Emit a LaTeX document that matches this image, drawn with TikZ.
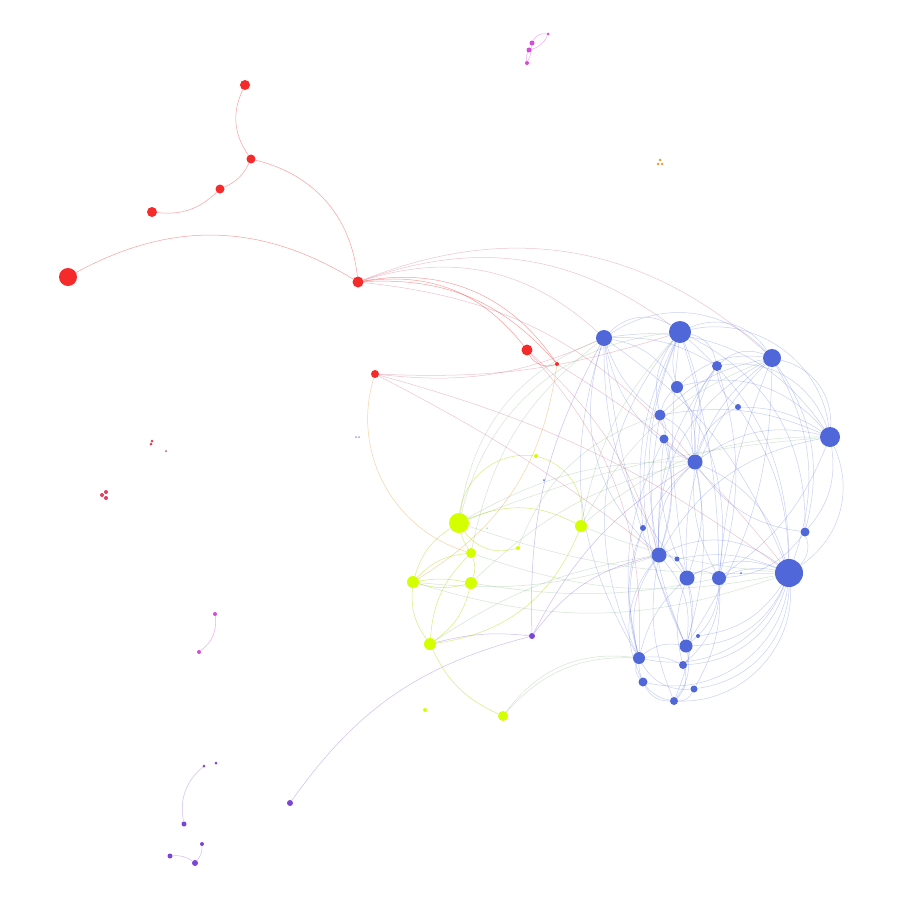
\documentclass[tikz,border=0pt]{standalone}
\usetikzlibrary{calc}
\definecolor{cRed}{HTML}{F52A2A}
\definecolor{cBlue}{HTML}{4F67D9}
\definecolor{cYel}{HTML}{D4FF00}
\definecolor{cPur}{HTML}{7B45D6}
\definecolor{cMag}{HTML}{D84AD8}
\definecolor{cPink}{HTML}{E0405A}
\definecolor{cOra}{HTML}{E8A040}
\pgfdeclarelayer{bgl}
\pgfdeclarelayer{edgelayer}
\pgfsetlayers{bgl,edgelayer,main}
\tikzset{
  nd/.style={circle,inner sep=0pt,draw=none},
  nr/.style={nd,fill=cRed},
  nb/.style={nd,fill=cBlue},
  ny/.style={nd,fill=cYel},
  np/.style={nd,fill=cPur},
  nm/.style={nd,fill=cMag},
  nk/.style={nd,fill=cPink},
  no/.style={nd,fill=cOra},
  bd/.style={bend left=#1},
  eb/.style={draw=cBlue,opacity=.3,line width=.5pt},
  er/.style={draw=cRed,opacity=.45,line width=.5pt},
  ep/.style={draw=black!35!magenta!55!cRed,opacity=.3,line width=.5pt},
  ey/.style={draw=cYel!85!black,opacity=.5,line width=.5pt},
  eg/.style={draw=green!40!black!60,opacity=.28,line width=.5pt},
  eo/.style={draw=cOra,opacity=.45,line width=.5pt},
  ev/.style={draw=cPur,opacity=.35,line width=.5pt},
  em/.style={draw=cMag,opacity=.45,line width=.5pt},
}
\begin{document}
\begin{tikzpicture}[x=1pt,y=1pt]
\begin{pgfonlayer}{bgl}
\fill[white] (0,0) rectangle (900,-900);
\end{pgfonlayer}
\useasboundingbox (0,0) rectangle (900,-900);
% ---------- red cluster nodes ----------
\node[nr,minimum size=10pt] (R1) at (245,-85) {};
\node[nr,minimum size=9pt] (R2) at (251,-159) {};
\node[nr,minimum size=9pt] (R3) at (220,-189) {};
\node[nr,minimum size=10pt] (R4) at (152,-212) {};
\node[nr,minimum size=18pt] (R5) at (68,-277) {};
\node[nr,minimum size=11pt] (R6) at (358,-282) {};
\node[nr,minimum size=11pt] (R7) at (527,-350) {};
\node[nr,minimum size=4pt] (R8) at (557,-364) {};
\node[nr,minimum size=8pt] (R9) at (375,-374) {};
% ---------- blue cluster nodes ----------
\node[nb,minimum size=16pt] (B1) at (604,-338) {};
\node[nb,minimum size=22pt] (B2) at (680,-332) {};
\node[nb,minimum size=10pt] (B3) at (717,-366) {};
\node[nb,minimum size=18pt] (B4) at (772,-358) {};
\node[nb,minimum size=12pt] (B5) at (677,-387) {};
\node[nb,minimum size=6pt] (B6) at (738,-407) {};
\node[nb,minimum size=11pt] (B7) at (660,-415) {};
\node[nb,minimum size=9pt] (B8) at (664,-439) {};
\node[nb,minimum size=15pt] (B9) at (695,-462) {};
\node[nb,minimum size=20pt] (B10) at (830,-437) {};
\node[nb,minimum size=6pt] (B11) at (643,-528) {};
\node[nb,minimum size=9pt] (B12) at (805,-532) {};
\node[nb,minimum size=15pt] (B13) at (659,-555) {};
\node[nb,minimum size=5pt] (B14) at (677,-559) {};
\node[nb,minimum size=15pt] (B15) at (687,-578) {};
\node[nb,minimum size=14pt] (B16) at (719,-578) {};
\node[nb,minimum size=28pt] (B17) at (789,-573) {};
\node[nb,minimum size=2pt] (B18) at (741,-573) {};
\node[nb,minimum size=4pt] (B19) at (698,-636) {};
\node[nb,minimum size=13pt] (B20) at (686,-646) {};
\node[nb,minimum size=12pt] (B21) at (639,-658) {};
\node[nb,minimum size=8pt] (B22) at (683,-665) {};
\node[nb,minimum size=9pt] (B23) at (643,-682) {};
\node[nb,minimum size=7pt] (B24) at (694,-689) {};
\node[nb,minimum size=8pt] (B25) at (674,-701) {};
\node[nb,minimum size=2pt] (B26) at (544,-480) {};
% ---------- yellow cluster nodes ----------
\node[ny,minimum size=20pt] (Y1) at (459,-523) {};
\node[ny,minimum size=12pt] (Y2) at (581,-526) {};
\node[ny,minimum size=10pt] (Y3) at (471,-553) {};
\node[ny,minimum size=12pt] (Y4) at (413,-582) {};
\node[ny,minimum size=12pt] (Y5) at (471,-583) {};
\node[ny,minimum size=12pt] (Y6) at (430,-644) {};
\node[ny,minimum size=10pt] (Y7) at (503,-716) {};
\node[ny,minimum size=4pt] (Y8) at (536,-456) {};
\node[ny,minimum size=4pt] (Y9) at (518,-548) {};
\node[ny,minimum size=4pt] (Y10) at (425,-710) {};
\node[nd,fill=green!60!black,opacity=.5,minimum size=1.5pt] (Y11) at (487,-528) {};
% ---------- purple ----------
\node[np,minimum size=6pt] (P1) at (532,-636) {};
\node[np,minimum size=6pt] (P2) at (290,-803) {};
\node[np,minimum size=3pt] (P3) at (216,-763) {};
\node[np,minimum size=3pt] (P4) at (204,-766) {};
\node[np,minimum size=5pt] (P5) at (184,-824) {};
\node[np,minimum size=4pt] (P6) at (202,-844) {};
\node[np,minimum size=5pt] (P7) at (170,-856) {};
\node[np,minimum size=6pt] (P8) at (195,-863) {};
% ---------- magenta / small ----------
\node[nm,minimum size=3pt] (M1) at (548,-34) {};
\node[nm,minimum size=5pt] (M2) at (532,-43) {};
\node[nm,minimum size=5pt] (M3) at (529,-50) {};
\node[nm,minimum size=4pt] (M4) at (527,-63) {};
\node[nm,minimum size=4pt] (M5) at (215,-614) {};
\node[nm,minimum size=4pt] (M6) at (199,-652) {};
\node[nk,minimum size=3pt] (K1) at (152,-441) {};
\node[nk,minimum size=3pt] (K2) at (151,-444) {};
\node[nk,minimum size=2pt] (K3) at (166,-451) {};
\node[nk,minimum size=4pt] (K4) at (102,-495) {};
\node[nk,minimum size=4pt] (K5) at (106,-492) {};
\node[nk,minimum size=4pt] (K6) at (106,-498) {};
\node[no,minimum size=3pt] (O1) at (660,-160) {};
\node[no,minimum size=3pt] (O2) at (658,-164) {};
\node[no,minimum size=3pt] (O3) at (662,-164) {};
\node[nb,opacity=.6,minimum size=2pt] (T1) at (356,-437) {};
\node[nb,opacity=.6,minimum size=2pt] (T2) at (359,-437) {};

\begin{pgfonlayer}{edgelayer}
% ---------- red edges ----------
\draw[er] (R1) to[bd=-30] (R2);
\draw[er] (R3) to[bd=-20] (R2);
\draw[er] (R4) to[bd=-25] (R3);
\draw[er] (R2) to[bd=35] (R6);
\draw[er] (R5) to[bd=30] (R6);
\draw[er] (R6) to[bd=30] (R7);
\draw[er] (R6) to[bd=33] (R8);
\draw[er] (R6) to[bd=26] (R8);
\draw[er] (R7) to[bd=-40] (R8);
% ---------- red-blue edges ----------
\draw[ep] (R6) to[bd=30] (B1);
\draw[ep] (R6) to[bd=32] (B4);
\draw[ep] (R6) to[bd=28] (B2);
\draw[ep] (R6) to[bd=22] (B9);
\draw[ep] (R9) to[bd=-15] (B1);
\draw[ep] (R9) to[bd=-10] (B2);
\draw[ep] (R9) to[bd=10] (B17);
\draw[ep] (R9) to[bd=5] (B13);
\draw[ep] (R7) to[bd=22] (B21);
\draw[ep] (R7) to[bd=15] (B13);
\draw[ep] (R8) to[bd=10] (B17);
% ---------- orange ----------
\draw[eo] (R9) to[bd=-45] (Y3);
\draw[eo] (R8) to[bd=25] (Y4);
% ---------- yellow edges ----------
\draw[ey] (Y1) to[bd=45] (Y8);
\draw[ey] (Y8) to[bd=40] (Y2);
\draw[ey] (Y1) to[bd=25] (Y2);
\draw[ey] (Y2) to[bd=30] (Y6);
\draw[ey] (Y1) to[bd=-35] (Y9);
\draw[ey] (Y1) to[bd=-10] (Y3);
\draw[ey] (Y1) to[bd=-20] (Y4);
\draw[ey] (Y3) to[bd=-20] (Y4);
\draw[ey] (Y3) to[bd=20] (Y5);
\draw[ey] (Y4) to[bd=-15] (Y5);
\draw[ey] (Y4) to[bd=10] (Y5);
\draw[ey] (Y4) to[bd=-20] (Y6);
\draw[ey] (Y3) to[bd=-20] (Y6);
\draw[ey] (Y5) to[bd=20] (Y6);
\draw[ey] (Y6) to[bd=-20] (Y7);
% ---------- yellow-blue edges ----------
\draw[eg] (Y7) to[bd=25] (B21);
\draw[eg] (Y7) to[bd=30] (B21);
\draw[eg] (Y1) to[bd=30] (B1);
\draw[eg] (Y1) to[bd=35] (B2);
\draw[eg] (Y1) to[bd=15] (B9);
\draw[eg] (Y1) to[bd=-10] (B17);
\draw[eg] (Y1) to[bd=8] (B10);
\draw[eg] (Y2) to[bd=20] (B4);
\draw[eg] (Y2) to[bd=15] (B2);
\draw[eg] (Y2) to[bd=-8] (B17);
\draw[eg] (Y2) to[bd=20] (B10);
\draw[eg] (Y3) to[bd=-15] (B17);
\draw[eg] (Y5) to[bd=-10] (B16);
\draw[eg] (Y5) to[bd=15] (B9);
\draw[eg] (Y4) to[bd=-12] (B13);
\draw[eg] (Y3) to[bd=20] (B1);
\draw[eg] (Y9) to[bd=25] (B7);
\draw[eg] (Y6) to[bd=12] (B13);
\draw[eg] (Y4) to[bd=-18] (B17);
% ---------- violet ----------
\draw[ev] (P2) to[bd=20] (P1);
\draw[ev] (P1) to[bd=15] (B1);
\draw[ev] (P1) to[bd=20] (B13);
\draw[ev] (P1) to[bd=15] (B9);
\draw[ev] (Y6) to[bd=10] (P1);
% ---------- blue edges ----------
\foreach \a/\b/\c in {
 B1/B2/25, B1/B4/25, B1/B9/-15, B1/B13/-20, B1/B21/-15,
 B1/B7/-10, B1/B17/10, B1/B5/15, B1/B20/-5, B1/B3/10,
 B2/B3/20, B2/B4/25, B2/B5/-10, B2/B7/-15, B2/B9/10,
 B2/B10/30, B2/B13/-10, B2/B15/-5, B2/B17/15, B2/B20/-15,
 B2/B21/-20, B2/B16/5, B2/B12/20,
 B4/B3/-20, B4/B10/25, B4/B9/-10, B4/B17/15, B4/B5/-15,
 B4/B15/-15, B4/B13/-20, B4/B12/15, B4/B16/-5, B4/B7/-10,
 B10/B9/-15, B10/B17/25, B10/B12/15, B10/B5/-20, B10/B13/-15,
 B10/B6/-10, B10/B3/-25, B10/B7/-10, B10/B16/10, B10/B1/-20,
 B17/B12/-20, B17/B16/-10, B17/B15/-15, B17/B13/-20, B17/B20/20,
 B17/B21/25, B17/B23/30, B17/B25/30, B17/B24/25, B17/B9/-15,
 B17/B19/15, B17/B14/-10, B17/B22/22,
 B9/B7/-15, B9/B8/10, B9/B13/-15, B9/B15/10, B9/B16/-10,
 B9/B3/15, B9/B21/-20, B9/B20/8,
 B13/B15/20, B13/B21/-15, B13/B23/-20, B13/B20/15, B13/B25/-10,
 B15/B16/20, B15/B20/10, B15/B22/-10, B15/B25/10, B15/B21/-10,
 B16/B20/15, B16/B24/10, B16/B22/15,
 B20/B21/-15, B20/B22/20, B20/B25/15, B21/B23/-20, B21/B22/10,
 B23/B25/-20, B22/B25/20, B24/B25/20, B21/B25/-25, B21/B24/-20,
 B5/B7/-10, B7/B8/15, B8/B13/10, B6/B3/15, B6/B9/-15,
 B11/B21/-10, B11/B2/10, B3/B9/-10, B12/B9/15, B5/B9/10,
 B7/B13/10, B8/B15/-10, B3/B16/10, B4/B20/10, B12/B16/15,
 B1/B15/-12, B5/B16/12, B7/B20/-10, B8/B21/-12, B6/B17/10, B3/B13/-12}
 {\pgfmathsetmacro\bb{1.6*\c}
  \draw[eb] (\a) to[bd=\bb] (\b);}
% ---------- small components ----------
\draw[em] (M1) to[bd=-35] (M2);
\draw[em] (M1) to[bd=25] (M3);
\draw[em] (M3) to[bd=-20] (M4);
\draw[em] (M2) to[bd=10] (M4);
\draw[em] (M5) to[bd=30] (M6);
\draw[ev] (P4) to[bd=-30] (P5);
\draw[ev] (P7) to[bd=20] (P8);
\draw[ev] (P6) to[bd=20] (P8);
\end{pgfonlayer}
\end{tikzpicture}
\end{document}
